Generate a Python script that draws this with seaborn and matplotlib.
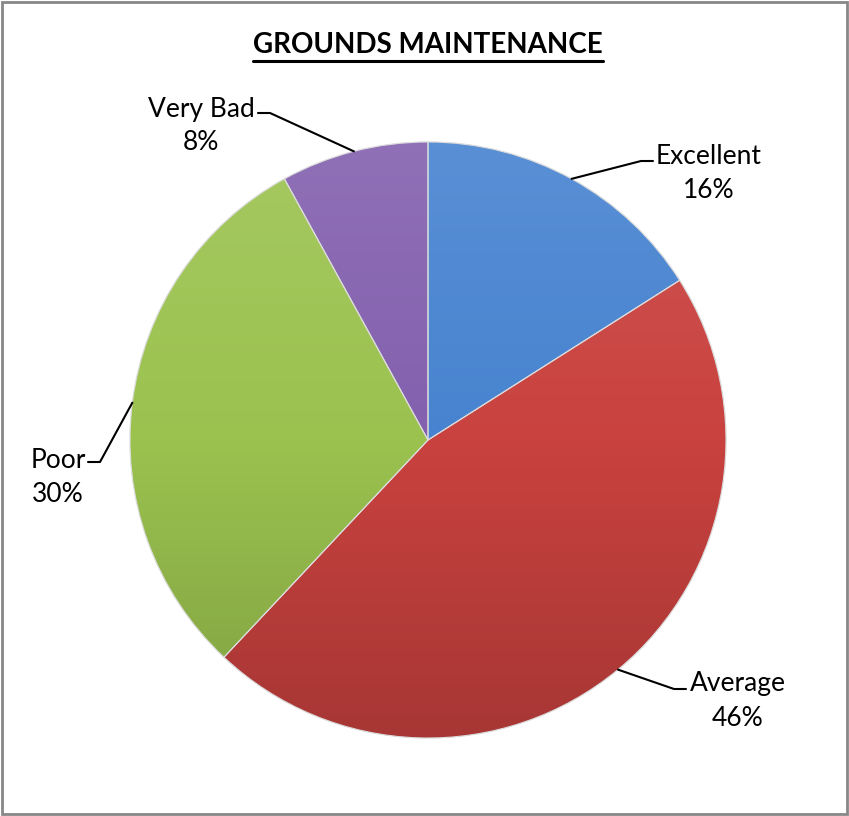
#!/usr/bin/env python
"""Pie chart of the grounds maintenance survey ratings."""
import numpy as np
import matplotlib
matplotlib.use("Agg")
import matplotlib.pyplot as plt
import matplotlib.colors as mcolors
from matplotlib.patches import Rectangle, Wedge
import seaborn as sns

# survey data
categories = ["Excellent", "Average", "Poor", "Very Bad"]
shares = [16, 46, 30, 8]
slice_colors = ["#4783d0", "#c9423f", "#9bc24f", "#8360ae"]
title = "GROUNDS MAINTENANCE"

# label placement (text centre, elbow of leader line, stub direction)
label_pos = [(709, 173), (738, 701), (58, 477), (201, 126)]
elbow_pos = [(641, 161), (674, 689), (100, 462), (270, 113)]
stub_dir = [1, 1, -1, -1]


def shade(color, amount):
    r, g, b = mcolors.to_rgb(color)
    if amount > 0:
        return (r + (1 - r) * amount, g + (1 - g) * amount, b + (1 - b) * amount)
    return (r * (1 + amount), g * (1 + amount), b * (1 + amount))


def main():
    sns.set_theme(style="white")
    plt.rcParams["font.family"] = ["Lato", "DejaVu Sans"]

    W, H = 849, 816
    fig = plt.figure(figsize=(W / 100, H / 100), dpi=100)
    ax = fig.add_axes([0, 0, 1, 1])
    ax.set_aspect("equal")
    ax.axis("off")

    cx, cy, r = 428, 440, 298
    # y axis is inverted, so counterclock=True draws clockwise on screen
    wedges, _ = ax.pie(shares, radius=r, center=(cx, cy), startangle=-90,
                       counterclock=True, colors=slice_colors,
                       wedgeprops=dict(edgecolor="#e8e8e8", linewidth=0.8))

    # vertical gradient on each wedge
    for w, c in zip(wedges, slice_colors):
        cmap = mcolors.LinearSegmentedColormap.from_list(
            "g", [shade(c, 0.1), c, shade(c, -0.17)])
        grad = np.linspace(0, 1, 256).reshape(-1, 1)
        im = ax.imshow(grad, cmap=cmap, extent=(cx - r, cx + r, cy + r, cy - r),
                       aspect="auto", zorder=w.get_zorder() + 0.1)
        im.set_clip_path(w)
        ax.add_patch(Wedge(w.center, w.r, w.theta1, w.theta2, facecolor="none",
                           edgecolor="#dcdcdc", linewidth=0.8,
                           zorder=w.get_zorder() + 0.2))
    ax.set_xlim(0, W)
    ax.set_ylim(H, 0)

    # labels with leader lines
    for w, name, val, lp, ep, sd in zip(wedges, categories, shares,
                                        label_pos, elbow_pos, stub_dir):
        mid = np.deg2rad((w.theta1 + w.theta2) / 2)
        px, py = cx + r * np.cos(mid), cy + r * np.sin(mid)
        ax.plot([px, ep[0], ep[0] + sd * 12], [py, ep[1], ep[1]],
                color="black", lw=1.5, zorder=5)
        ax.text(lp[0], lp[1], f"{name}\n{val}%", ha="center", va="center",
                fontsize=19, color="black", linespacing=1.45)

    # underlined title
    t = ax.text(cx, 45, title, ha="center", va="center", fontsize=20,
                fontweight="bold", color="black")
    fig.canvas.draw()
    bb = t.get_window_extent().transformed(ax.transData.inverted())
    uy = max(bb.y0, bb.y1) + 3
    ax.plot([bb.x0, bb.x1], [uy, uy], color="black", lw=2.2)

    # chart border
    fig.patches.append(Rectangle((0.002, 0.002), 0.996, 0.996,
                                 transform=fig.transFigure, fill=False,
                                 edgecolor="#878787", linewidth=2))

    fig.savefig("out.png", dpi=100)


if __name__ == "__main__":
    main()
